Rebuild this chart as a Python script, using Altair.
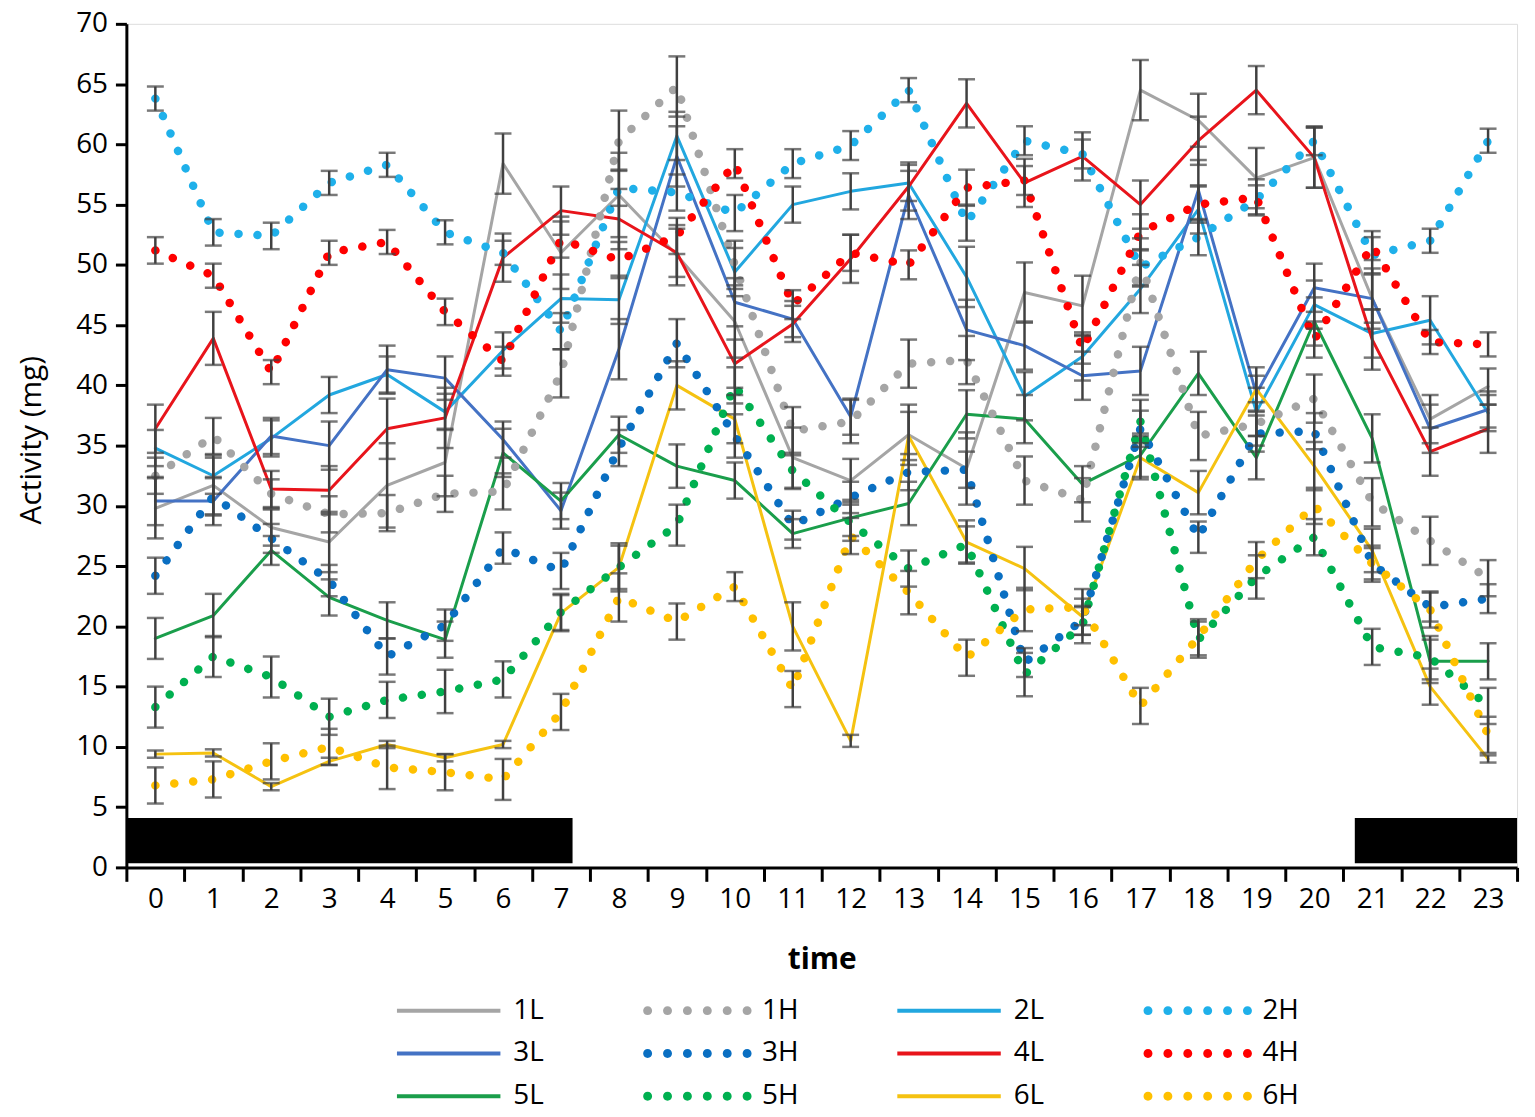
import altair as alt
import pandas as pd

hours = list(range(24))
series = ["1L", "1H", "2L", "2H", "3L", "3H", "4L", "4H", "5L", "5H", "6L", "6H"]
colors = ["#a5a5a5", "#a5a5a5", "#22a7df", "#1fb0ea", "#4472c4", "#0a6fc2",
          "#e8141b", "#ff0000", "#1a9e4b", "#00b050", "#f5c211", "#ffc000"]

v1L = [29.8, 31.7, 28.2, 27.0, 31.7, 33.6, 58.4, 51.0, 55.8, 50.8, 45.3, 34.0, 32.1, 35.9, 33.1, 47.7, 46.6, 64.5, 62.0, 57.2, 58.9, 47.2, 37.2, 39.9]
v1H = [32.5, 35.8, 31.0, 29.3, 29.4, 31.0, 31.2, 41.0, 60.3, 64.8, 50.0, 36.2, 37.0, 41.8, 42.1, 32.1, 30.5, 50.2, 35.8, 36.8, 38.9, 30.3, 27.1, 24.0]
v2L = [34.8, 32.5, 35.6, 39.2, 40.9, 37.8, 42.9, 47.2, 47.1, 60.7, 49.4, 55.0, 56.1, 56.8, 49.0, 39.1, 42.4, 48.0, 54.6, 37.8, 46.7, 44.3, 45.4, 37.7]
v2H = [63.8, 52.7, 52.4, 56.8, 58.3, 52.7, 51.0, 44.5, 56.4, 56.0, 54.3, 58.4, 59.9, 64.5, 53.5, 60.3, 59.2, 49.8, 52.3, 55.4, 60.3, 50.8, 52.0, 60.3]
v3L = [30.4, 30.4, 35.8, 35.0, 41.3, 40.6, 35.5, 29.6, 43.0, 59.0, 46.9, 45.5, 37.4, 55.8, 44.6, 43.3, 40.8, 41.2, 56.2, 39.3, 48.1, 47.2, 36.4, 38.0]
v3H = [24.2, 30.8, 27.3, 23.8, 17.5, 20.1, 26.5, 24.6, 34.8, 43.5, 35.8, 28.4, 30.7, 32.8, 33.0, 17.0, 20.5, 36.4, 27.4, 36.0, 36.2, 25.2, 21.6, 22.3]
v4L = [36.4, 43.9, 31.4, 31.3, 36.4, 37.3, 50.6, 54.5, 53.8, 51.0, 41.8, 45.1, 50.5, 56.5, 63.4, 56.8, 59.0, 55.0, 60.3, 64.5, 58.9, 43.8, 34.5, 36.4]
v4H = [51.2, 49.1, 41.1, 51.0, 51.9, 46.1, 42.0, 52.1, 50.4, 52.4, 58.4, 46.7, 51.0, 50.0, 56.4, 57.0, 43.0, 52.7, 55.0, 55.6, 43.8, 51.6, 43.6, 43.4]
v5L = [19.0, 20.9, 26.3, 22.4, 20.5, 18.9, 34.4, 30.4, 35.9, 33.3, 32.1, 27.7, 29.0, 30.2, 37.6, 37.2, 31.8, 34.2, 41.0, 34.0, 45.3, 35.6, 17.1, 17.1]
v5H = [13.3, 17.5, 15.8, 12.5, 13.9, 14.6, 15.6, 21.2, 24.9, 28.4, 40.0, 32.9, 28.6, 24.8, 26.8, 16.0, 20.1, 37.0, 18.9, 24.1, 27.4, 18.3, 17.4, 13.4]
v6L = [9.4, 9.5, 6.7, 8.8, 10.2, 9.1, 10.2, 21.1, 24.9, 40.0, 37.2, 20.0, 10.5, 35.8, 27.0, 24.8, 20.8, 34.0, 31.1, 39.7, 33.3, 26.3, 15.0, 9.0]
v6H = [6.8, 7.3, 8.8, 10.0, 8.3, 7.9, 7.3, 12.9, 22.4, 20.4, 23.3, 14.8, 27.5, 22.8, 17.4, 21.4, 21.6, 13.4, 19.1, 25.5, 30.0, 25.2, 21.4, 11.0]

e1L = [2.5, 2.5, 1.5, 2.5, 3.5, 2.8, 2.5, 3.0, 3.5, 2.5, 3.0, 2.5, 1.8, 2.5, 3.0, 2.5, 2.5, 2.5, 2.2, 2.5, 2.5, 2.5, 2.0, 1.5]
e1H = [1.5, 1.5, 1.2, 1.5, 1.5, 1.5, 1.5, 2.0, 2.5, 2.5, 2.0, 2.0, 1.8, 2.0, 2.0, 2.0, 1.8, 2.0, 2.0, 1.8, 2.0, 2.0, 2.0, 1.5]
e2L = [1.5, 1.5, 1.5, 1.5, 1.5, 1.5, 1.5, 2.0, 2.0, 2.0, 2.0, 1.5, 1.5, 1.5, 2.5, 2.0, 2.0, 2.0, 2.0, 2.0, 2.0, 2.0, 2.0, 1.5]
e2H = [1.0, 1.1, 1.1, 1.0, 1.0, 1.0, 1.0, 1.5, 1.5, 1.5, 1.5, 1.2, 1.2, 1.0, 1.5, 1.2, 1.2, 1.5, 1.5, 1.2, 1.2, 1.5, 1.0, 1.0]
e3L = [2.0, 2.0, 1.5, 2.0, 2.0, 1.8, 1.5, 1.5, 2.5, 2.5, 2.0, 1.5, 1.5, 2.0, 2.5, 2.0, 2.0, 2.0, 2.5, 1.5, 2.0, 2.0, 2.0, 1.5]
e3H = [1.5, 1.5, 1.2, 1.3, 1.5, 1.3, 1.3, 1.5, 1.5, 2.0, 1.8, 1.2, 1.3, 1.5, 1.5, 1.2, 1.2, 1.5, 1.3, 1.5, 1.5, 1.3, 1.2, 1.2]
e4L = [2.0, 2.2, 1.5, 2.0, 2.5, 2.5, 2.0, 2.0, 2.5, 2.0, 2.0, 1.5, 2.0, 2.0, 2.0, 2.0, 2.0, 2.0, 2.0, 2.0, 2.5, 2.5, 2.0, 2.0]
e4H = [1.1, 1.0, 1.0, 1.0, 1.0, 1.1, 1.2, 1.5, 1.5, 1.5, 1.2, 1.2, 1.5, 1.2, 1.5, 1.2, 1.2, 1.5, 1.5, 1.5, 1.5, 1.2, 1.0, 1.0]
e5L = [1.7, 1.8, 1.2, 1.5, 1.5, 1.5, 2.0, 1.5, 1.5, 1.8, 1.5, 1.2, 1.5, 1.8, 2.0, 2.0, 1.5, 1.8, 1.8, 1.8, 2.0, 2.0, 1.8, 1.5]
e5H = [1.7, 1.7, 1.7, 1.5, 1.5, 1.8, 1.5, 1.5, 1.8, 1.7, 1.5, 1.5, 1.5, 1.5, 1.5, 1.8, 1.5, 1.8, 1.5, 1.8, 1.5, 1.5, 1.8, 1.5]
e6L = [0.3, 0.3, 0.3, 0.3, 0.3, 0.3, 0.3, 1.5, 2.0, 2.0, 2.0, 2.0, 0.5, 2.0, 1.8, 1.8, 1.5, 1.8, 1.8, 1.8, 2.0, 1.8, 1.5, 0.3]
e6H = [1.5, 1.5, 1.5, 1.5, 1.8, 1.5, 1.7, 1.5, 2.0, 1.5, 1.2, 1.5, 1.5, 1.8, 1.5, 1.8, 1.5, 1.5, 1.5, 1.5, 1.5, 1.5, 1.5, 1.5]

# dark (night) periods on the time axis
night_start = [-0.5, 20.7]
night_end = [7.2, 23.5]
night_bottom = [0.35, 0.35]
night_top = [4.1, 4.1]

y_ticks = list(range(0, 75, 5))

values = [v1L, v1H, v2L, v2H, v3L, v3H, v4L, v4H, v5L, v5H, v6L, v6H]
errors = [e1L, e1H, e2L, e2H, e3L, e3H, e4L, e4H, e5L, e5H, e6L, e6H]

rows = []
for s, vals, errs in zip(series, values, errors):
    for t, v, e in zip(hours, vals, errs):
        rows.append({"t": t, "series": s, "kind": s[-1], "value": v, "lo": v - e, "hi": v + e})
df = pd.DataFrame(rows)

night = pd.DataFrame({"x": night_start, "x2": night_end, "y": night_bottom, "y2": night_top})

# legend glyphs (unit path scaled by sqrt(size)/2 = 5 px)
LINE_GLYPH = "M-10.4,-0.4H10.4V0.4H-10.4Z"
DOT_GLYPH = "".join(
    f"M{c - 0.9},0a0.9,0.9 0 1,0 1.8,0a0.9,0.9 0 1,0 -1.8,0" for c in (-10, -6, -2, 2, 6, 10)
)
glyphs = [LINE_GLYPH if s.endswith("L") else DOT_GLYPH for s in series]

x_vals = sorted([h - 0.5 for h in hours] + hours + [hours[-1] + 0.5])

FONT = "Open Sans"

x_scale = alt.Scale(domain=[-0.5, 23.5], nice=False, zero=False)
y_scale = alt.Scale(domain=[0, 70], nice=False)

x_axis = alt.Axis(
    values=x_vals,
    labelExpr="datum.value % 1 === 0 ? format(datum.value, 'd') : ''",
    labelOverlap=False,
    labelFlush=False,
    tickOpacity={"condition": {"test": "datum.value % 1 === 0", "value": 0}, "value": 1},
    tickSize=14, tickWidth=3, tickColor="black",
    domainColor="black", domainWidth=3,
    labelFontSize=28, labelFont=FONT, labelColor="black", labelPadding=4,
    title="time", titleFont=FONT, titleFontSize=30, titleFontWeight="bold", titleColor="black",
    titleX=699, titleY=93, titleBaseline="middle",
    grid=False,
)
y_axis = alt.Axis(
    values=y_ticks,
    labelFlush=False, labelOverlap=False,
    tickSize=11, tickWidth=3, tickColor="black",
    domainColor="black", domainWidth=3,
    labelFontSize=28, labelFont=FONT, labelColor="black", labelPadding=8,
    title="Activity (mg)", titleFont=FONT, titleFontSize=30, titleFontWeight="normal", titleColor="black",
    titleX=-95, titleY=418, titleBaseline="middle", titleAngle=-90,
    grid=False,
)

color_scale = alt.Scale(domain=series, range=colors)

legend = alt.Legend(
    title=None, orient="none", legendX=310, legendY=978, columns=4, direction="horizontal",
    symbolSize=100, labelFontSize=28, labelFont=FONT, labelColor="black",
    labelOffset=51, columnPadding=99, rowPadding=15, labelLimit=200,
    symbolStrokeWidth=0, symbolOpacity=1,
)

# legend-only layer (no rows drawn); it carries the legend for the shared colour scale
legend_layer = alt.Chart(df).transform_filter("datum.t < 0").mark_point(
    filled=True, opacity=1, size=100
).encode(
    x=alt.X("t:Q", scale=x_scale, axis=x_axis),
    y=alt.Y("value:Q", scale=y_scale, axis=y_axis),
    color=alt.Color("series:N", scale=color_scale, legend=legend),
    shape=alt.Shape("series:N", scale=alt.Scale(domain=series, range=glyphs), legend=legend),
)

night_layer = alt.Chart(night).mark_rect(color="black").encode(
    x=alt.X("x:Q", scale=x_scale, axis=x_axis),
    x2="x2:Q",
    y=alt.Y("y:Q", scale=y_scale, axis=y_axis),
    y2="y2:Q",
)

solid = alt.Chart(df).transform_filter("datum.kind === 'L'").mark_line(
    strokeWidth=3, strokeCap="round", strokeJoin="round"
).encode(
    x=alt.X("t:Q", scale=x_scale, axis=x_axis),
    y=alt.Y("value:Q", scale=y_scale, axis=y_axis),
    color=alt.Color("series:N", scale=color_scale, legend=None),
    detail="series:N",
    order="t:Q",
)

dotted = alt.Chart(df).transform_filter("datum.kind === 'H'").mark_line(
    strokeWidth=8.5, strokeCap="round", strokeDash=[0.1, 19]
).encode(
    x=alt.X("t:Q", scale=x_scale, axis=x_axis),
    y=alt.Y("value:Q", scale=y_scale, axis=y_axis),
    color=alt.Color("series:N", scale=color_scale, legend=None),
    detail="series:N",
    order="t:Q",
)

bars = alt.Chart(df).mark_errorbar(ticks=True, size=17, thickness=2.5, color="#404040").encode(
    x=alt.X("t:Q", scale=x_scale, axis=x_axis),
    y=alt.Y("lo:Q", scale=y_scale, axis=y_axis),
    y2="hi:Q",
)

chart = alt.layer(legend_layer, night_layer, solid, dotted, bars).properties(
    width=1398, height=848,
    autosize=alt.AutoSizeParams(type="none"),
    padding={"left": 119, "top": 13, "right": 10, "bottom": 250},
).configure_view(stroke=None).configure(background="white")

chart.save("out.html", embed_options={"renderer": "svg", "actions": False})
